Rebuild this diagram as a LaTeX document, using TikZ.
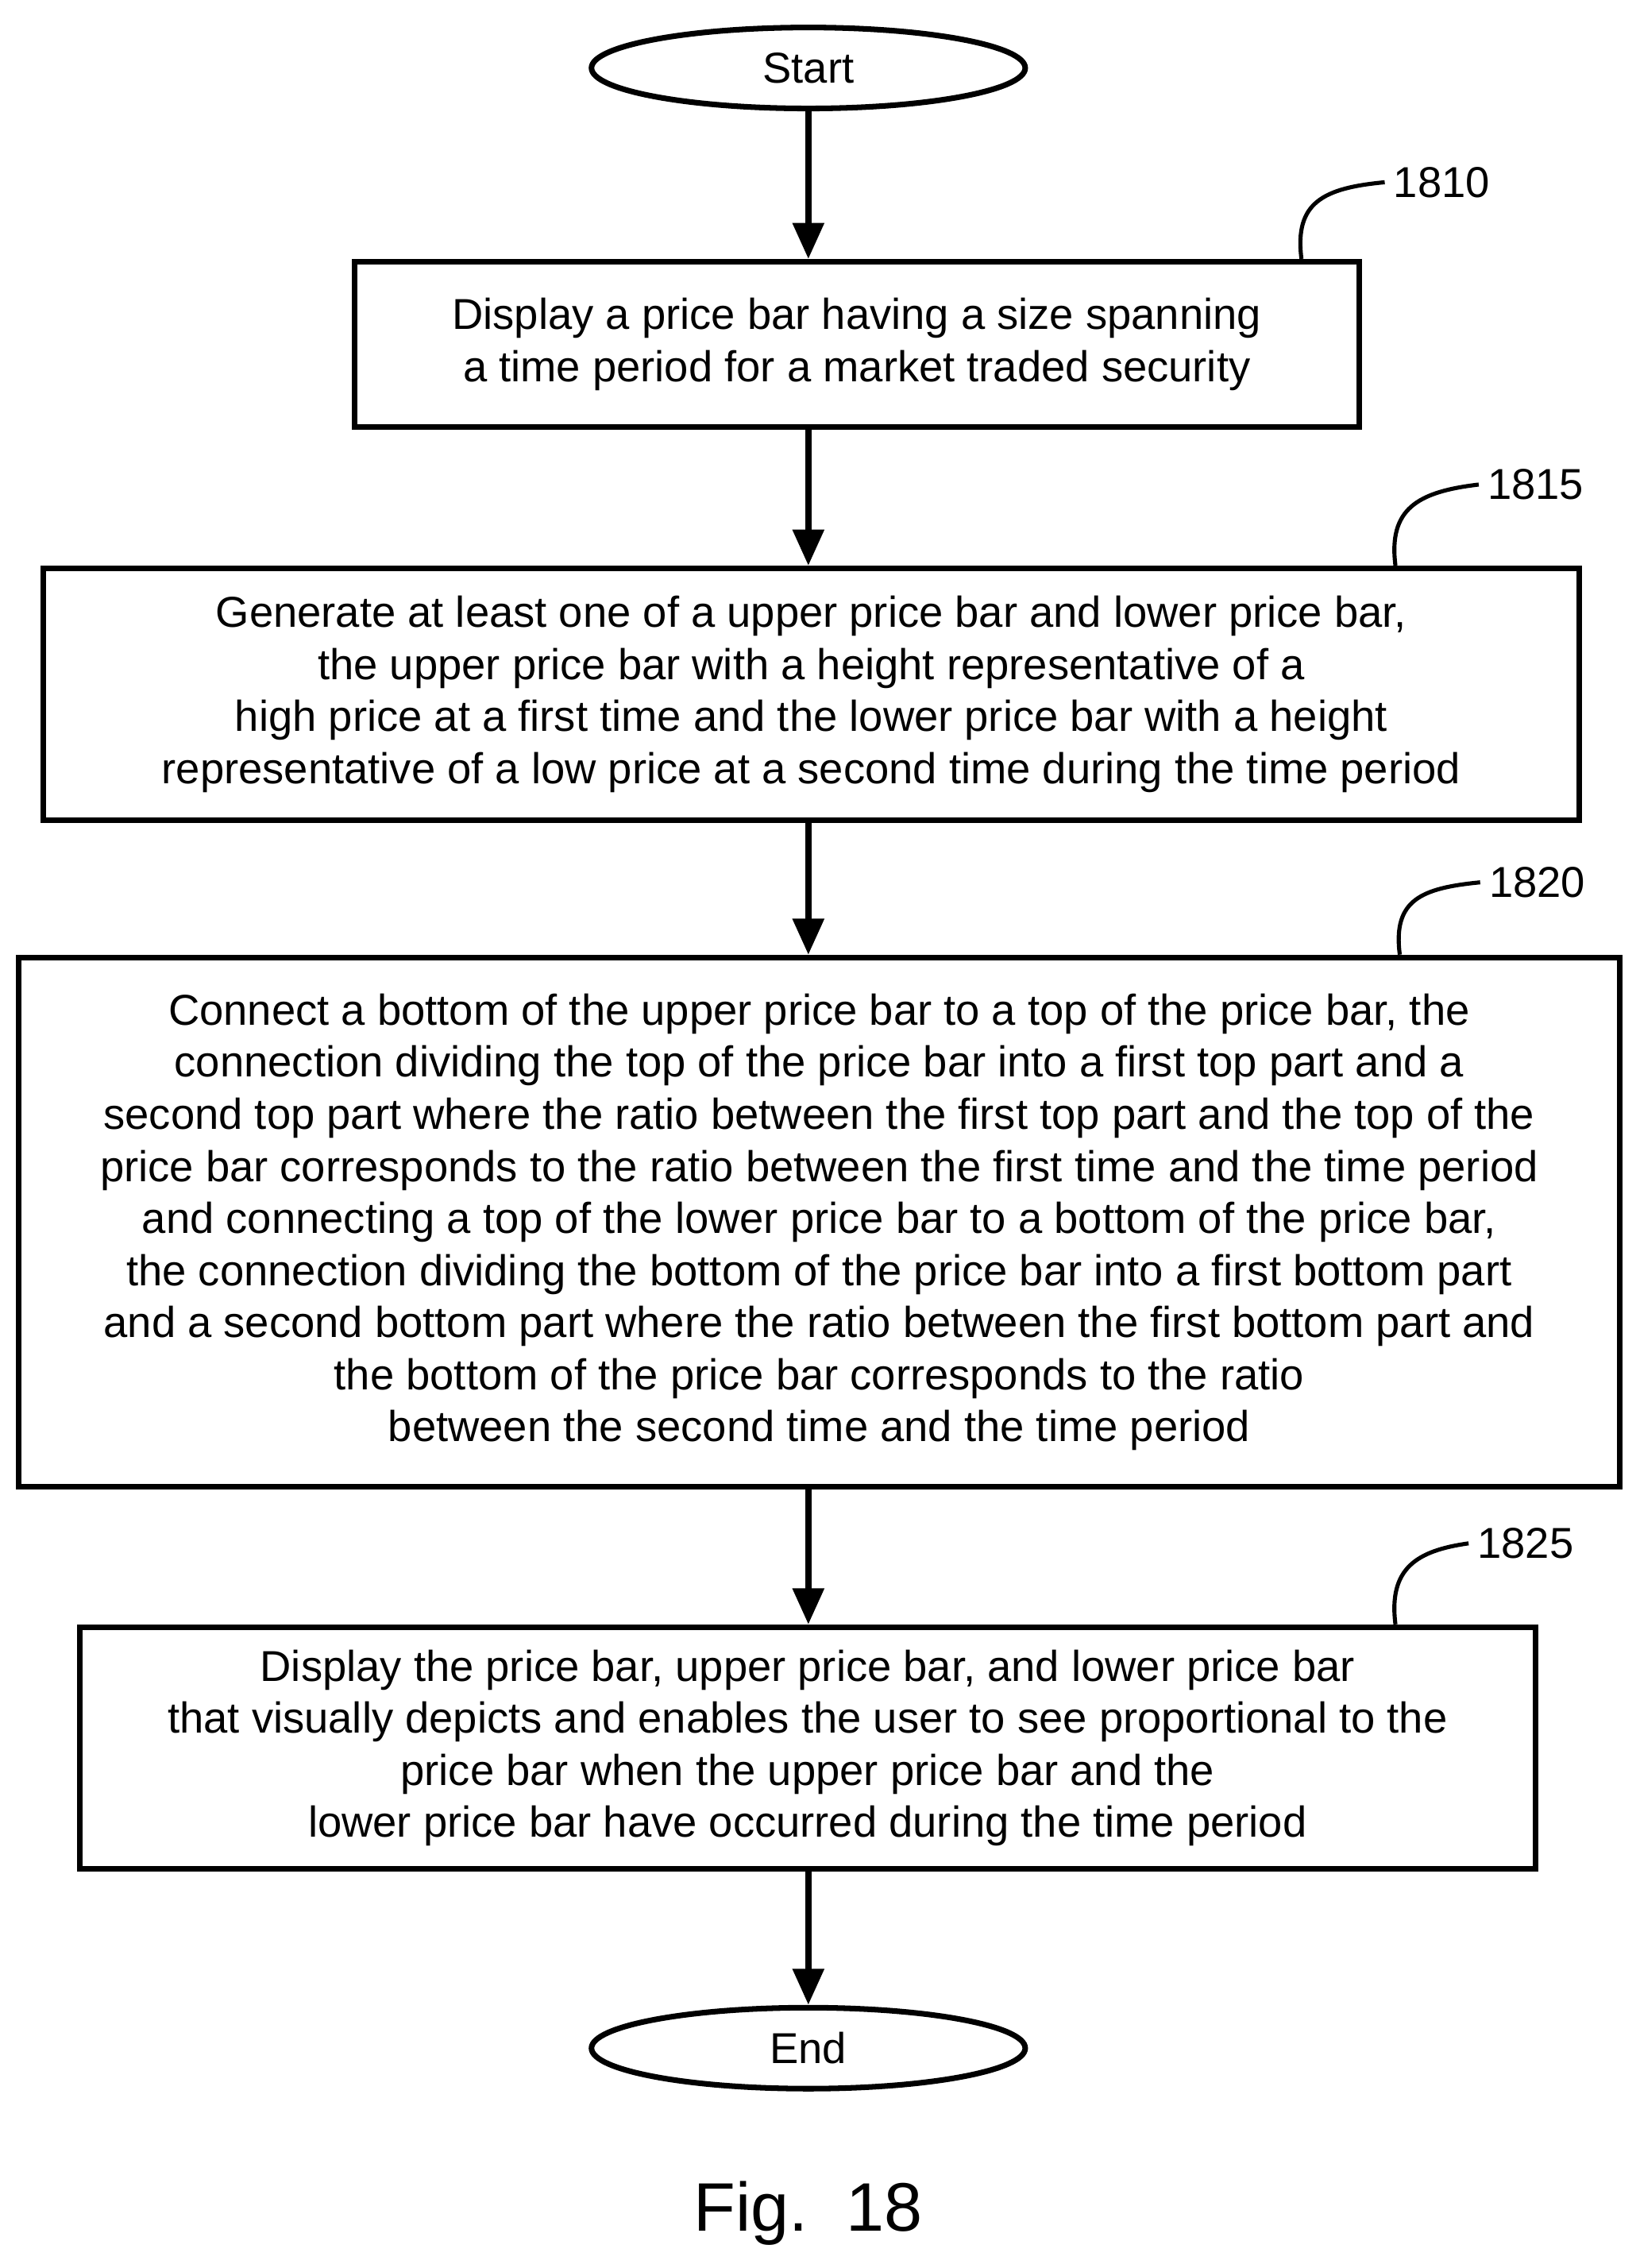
\documentclass[tikz,border=0pt]{standalone}
\usepackage{fontspec}
\setmainfont{Liberation Sans}
\usetikzlibrary{arrows.meta,shapes.geometric}

\tikzset{
    stepbox/.style={draw=black, line width=2.2pt, align=center, font=\fontsize{17}{20.5}\selectfont},
    termnode/.style={ellipse, draw=black, line width=2.2pt, minimum width=6cm, minimum height=1.12cm, font=\fontsize{17}{20.5}\selectfont},
    flow/.style={line width=2.6pt, -{Triangle[length=0.5cm, width=0.42cm]}},
    hook/.style={line width=1.6pt},
    reflabel/.style={font=\fontsize{17}{20}\selectfont}
}

\begin{document}
\begin{tikzpicture}[x=0.02cm, y=-0.02cm]
        \useasboundingbox (0, 0) rectangle (1134, 1568);

        \node (start) at (559, 47)[termnode] {Start};

        \node (s1810) at (592.5, 238)[stepbox, minimum width=13.9cm, minimum height=2.28cm] {Display a price bar having a size spanning\\a time period for a market traded security};

        \node (s1815) at (561, 480)[stepbox, minimum width=21.24cm, minimum height=3.48cm] {Generate at least one of a upper price bar and lower price bar,\\the upper price bar with a height representative of a\\high price at a first time and the lower price bar with a height\\representative of a low price at a second time during the time period};

        \node (s1820) at (566.5, 845)[stepbox, minimum width=22.14cm, minimum height=7.32cm] {Connect a bottom of the upper price bar to a top of the price bar, the\\connection dividing the top of the price bar into a first top part and a\\second top part where the ratio between the first top part and the top of the\\price bar corresponds to the ratio between the first time and the time period\\and connecting a top of the lower price bar to a bottom of the price bar,\\the connection dividing the bottom of the price bar into a first bottom part\\and a second bottom part where the ratio between the first bottom part and\\the bottom of the price bar corresponds to the ratio\\between the second time and the time period};

        \node (s1825) at (558.5, 1208.5)[stepbox, minimum width=20.14cm, minimum height=3.34cm] {Display the price bar, upper price bar, and lower price bar\\that visually depicts and enables the user to see proportional to the\\price bar when the upper price bar and the\\lower price bar have occurred during the time period};

        \node (end) at (559, 1416)[termnode] {End};

        \node (fig) at (559, 1530)[font=\fontsize{27}{30}\selectfont] {Fig.\ \ 18};

        \draw[flow] (start) -- (start |- s1810.north);
        \draw[flow] (s1810.south -| start) -- (start |- s1815.north);
        \draw[flow] (s1815.south -| start) -- (start |- s1820.north);
        \draw[flow] (s1820.south -| start) -- (start |- s1825.north);
        \draw[flow] (s1825.south -| start) -- (end);

        % reference numerals
        \node (l1810) at (997, 126)[reflabel] {1810};
        \node (l1815) at (1062, 335)[reflabel] {1815};
        \node (l1820) at (1063, 610)[reflabel] {1820};
        \node (l1825) at (1055, 1067)[reflabel] {1825};

        \draw[hook] (900, 179) .. controls (895, 140) and (915, 130) .. (l1810.west);
        \draw[hook] (965, 391) .. controls (960, 352) and (980, 340) .. (l1815.west);
        \draw[hook] (968, 660) .. controls (963, 622) and (983, 614) .. (l1820.west);
        \draw[hook] (965, 1123) .. controls (960, 1084) and (980, 1072) .. (l1825.west);
    \end{tikzpicture}
\end{document}
